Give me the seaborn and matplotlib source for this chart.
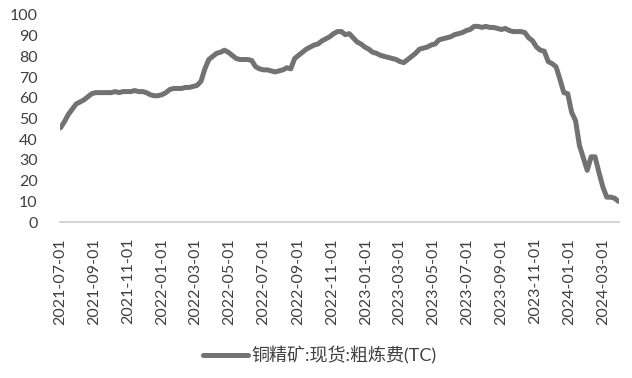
import matplotlib
matplotlib.use("Agg")
import matplotlib.pyplot as plt
import seaborn as sns
import pandas as pd

# ---- data (weekly) ----
start_date = "2021-07-02"
n_weeks = 144
tc_values = [
    45.5, 48.5, 52, 54.5, 57, 58, 59, 60.5, 62, 62.5,
    62.5, 62.5, 62.5, 62.5, 63, 62.5, 63, 63, 63, 63.5,
    63, 63, 62.5, 61.5, 61, 61, 61.5, 62.5, 64, 64.5,
    64.5, 64.5, 65, 65, 65.5, 66, 68, 74, 78.5, 80,
    81.5, 82, 83, 82, 80.5, 79, 78.5, 78.5, 78.5, 78,
    75, 74, 73.5, 73.5, 73, 72.5, 73, 73.5, 74.5, 74,
    79, 80.5, 82, 83.5, 84.5, 85.5, 86, 87.5, 88.5, 89.5,
    91, 92, 92, 90.5, 91, 89, 87, 86, 84.5, 83.5,
    82, 81.5, 80.5, 80, 79.5, 79, 78.5, 77.5, 77, 78.5,
    80, 81.5, 83.5, 84, 84.5, 85.5, 86, 88, 88.5, 89,
    89.5, 90.5, 91, 91.5, 92.5, 93, 94.5, 94.5, 94, 94.5,
    94, 94, 93.5, 93, 93.5, 92.5, 92, 92, 92, 91.5,
    89, 87.5, 84.5, 83, 82.5, 77.5, 76.5, 75, 69, 62.5,
    62, 53, 49, 37, 31, 25, 31.5, 31.5, 24, 17,
    12, 12, 11.5, 10,
]
series_name = "铜精矿:现货:粗炼费(TC)"
tick_labels = ["2021-07-01", "2021-09-01", "2021-11-01", "2022-01-01", "2022-03-01",
               "2022-05-01", "2022-07-01", "2022-09-01", "2022-11-01", "2023-01-01",
               "2023-03-01", "2023-05-01", "2023-07-01", "2023-09-01", "2023-11-01",
               "2024-01-01", "2024-03-01"]
y_ticks = [0, 10, 20, 30, 40, 50, 60, 70, 80, 90, 100]

dates = pd.date_range(start_date, periods=n_weeks, freq="7D")
df = pd.DataFrame({"date": dates, "value": tc_values, "series": series_name})

# ---- style ----
sns.set_theme(style="white")
plt.rcParams["font.family"] = ["Lato", "Noto Sans CJK SC", "DejaVu Sans"]

line_color = "#727272"
axis_color = "#D0D0D0"
text_color = "#404040"

fig = plt.figure(figsize=(6.32, 3.78), dpi=100)
ax = fig.add_axes([60 / 632, 1 - 222 / 378, (619 - 60) / 632, (222 - 15) / 378])

sns.lineplot(data=df, x="date", y="value", hue="series", palette=[line_color],
             linewidth=3.6, ax=ax, legend=True)
for ln in ax.get_lines():
    ln.set_solid_joinstyle("round")
    ln.set_solid_capstyle("round")

ax.set_ylim(0, 100)
ax.set_yticks(y_ticks)
ax.set_xlim(pd.Timestamp("2021-07-01"), pd.Timestamp("2024-03-30"))
tick_dates = pd.to_datetime(tick_labels)
ax.set_xticks(tick_dates)
ax.set_xticklabels(tick_labels, rotation=90)

for s in ["top", "right", "left"]:
    ax.spines[s].set_visible(False)
ax.spines["bottom"].set_color(axis_color)
ax.spines["bottom"].set_linewidth(1.3)

ax.tick_params(axis="x", which="both", direction="out", length=4.5, width=1.3,
               color=axis_color, pad=7, labelsize=11.5, labelcolor=text_color)
ax.tick_params(axis="y", length=0, pad=16, labelsize=11.5, labelcolor=text_color)
ax.set_xlabel("")
ax.set_ylabel("")
ax.grid(False)

handles, labels = ax.get_legend_handles_labels()
ax.get_legend().remove()
leg = fig.legend(handles, labels, loc="center", bbox_to_anchor=(320 / 632, 1 - 355 / 378),
                 frameon=False, handlelength=2.5, handletextpad=0.2,
                 prop={"family": ["Lato", "Noto Sans CJK SC"], "size": 13})
for t in leg.get_texts():
    t.set_color(text_color)
for l in leg.get_lines():
    l.set_linewidth(3.6)
    l.set_solid_capstyle("round")

fig.savefig("out.png", dpi=100)
